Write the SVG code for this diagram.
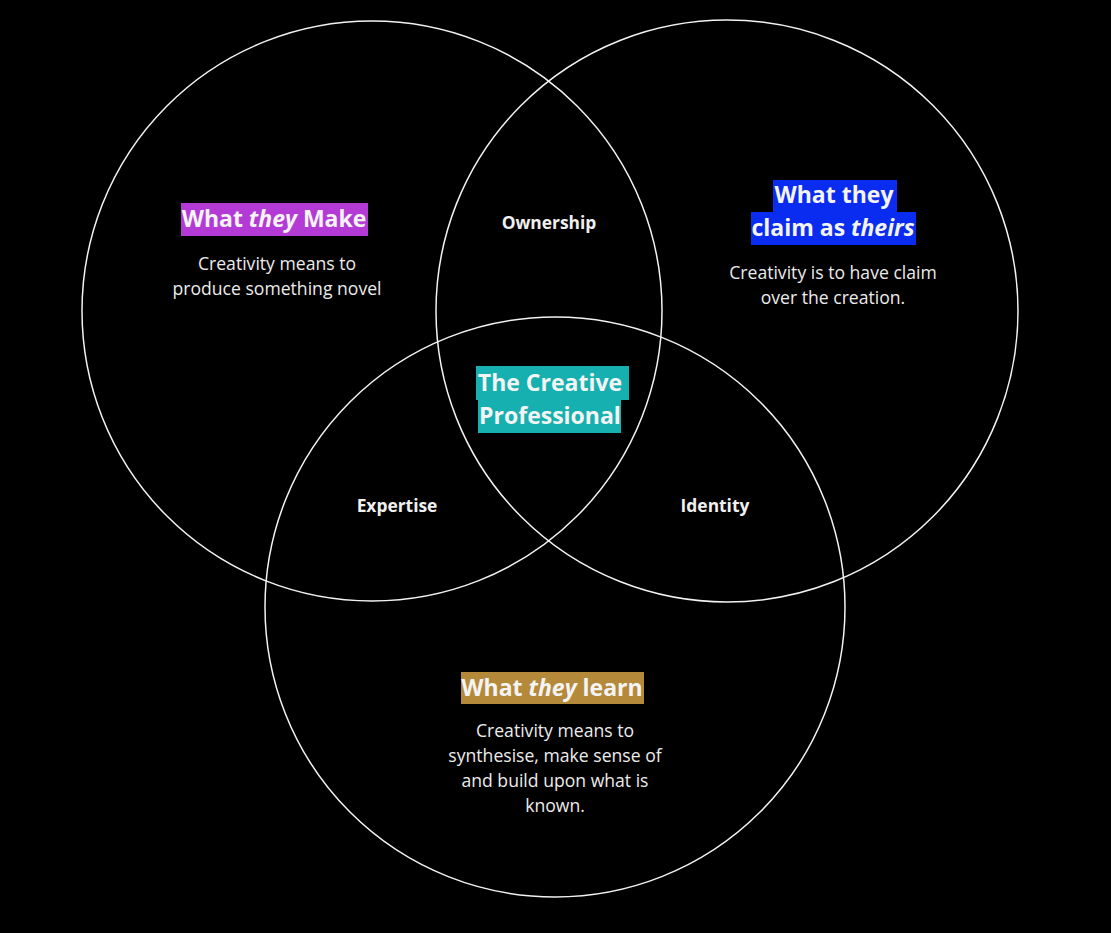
<svg xmlns="http://www.w3.org/2000/svg" width="1111" height="933" viewBox="0 0 1111 933">
<style>
.c{fill:none;stroke:#f2f2f2;stroke-width:1.5}
.h{font-family:"Open Sans","Noto Sans",sans-serif;font-weight:700;font-size:23px;fill:#f4f4f4;text-anchor:middle}
.b{font-family:"Open Sans","Noto Sans",sans-serif;font-size:17.6px;fill:#ececec;text-anchor:middle}
.s{font-family:"Open Sans","Noto Sans",sans-serif;font-weight:700;font-size:17.4px;fill:#f0f0f0;text-anchor:middle}
</style>
<rect width="1111" height="933" fill="#000"/>
<g id="circles">
<circle id="c-make" class="c" cx="372" cy="311" r="290"/>
<circle id="c-claim" class="c" cx="727" cy="311" r="291"/>
<circle id="c-learn" class="c" cx="555" cy="607" r="290"/>
</g>
<g id="make">
<rect x="181" y="203" width="187" height="33" fill="#b43ad6"/>
<text class="h" x="274" y="227">What <tspan font-style="italic">they</tspan> Make</text>
<text class="b" x="277" y="270">Creativity means to</text>
<text class="b" x="277" y="295">produce something novel</text>
</g>
<g id="claim">
<rect x="773" y="180" width="124" height="33" fill="#0a2cf0"/>
<rect x="751" y="212" width="165" height="33" fill="#0a2cf0"/>
<text class="h" x="834" y="203">What they</text>
<text class="h" x="833" y="236">claim as <tspan font-style="italic">theirs</tspan></text>
<text class="b" x="833" y="279">Creativity is to have claim</text>
<text class="b" x="833" y="304">over the creation.</text>
</g>
<g id="center">
<rect x="476" y="366" width="153" height="34" fill="#17b0b0"/>
<rect x="478" y="399" width="143" height="34" fill="#17b0b0"/>
<text class="h" x="550" y="391">The Creative</text>
<text class="h" x="550" y="424">Professional</text>
</g>
<g id="learn">
<rect x="461" y="672" width="183" height="32" fill="#b5893a"/>
<text class="h" x="552" y="696">What <tspan font-style="italic">they</tspan> learn</text>
<text class="b" x="555" y="737">Creativity means to</text>
<text class="b" x="555" y="762">synthesise, make sense of</text>
<text class="b" x="555" y="787">and build upon what is</text>
<text class="b" x="555" y="812">known.</text>
</g>
<g id="ownership"><text class="s" x="549" y="229">Ownership</text></g>
<g id="expertise"><text class="s" x="397" y="512">Expertise</text></g>
<g id="identity"><text class="s" x="715" y="512">Identity</text></g>
<g id="connectors"></g>
</svg>
